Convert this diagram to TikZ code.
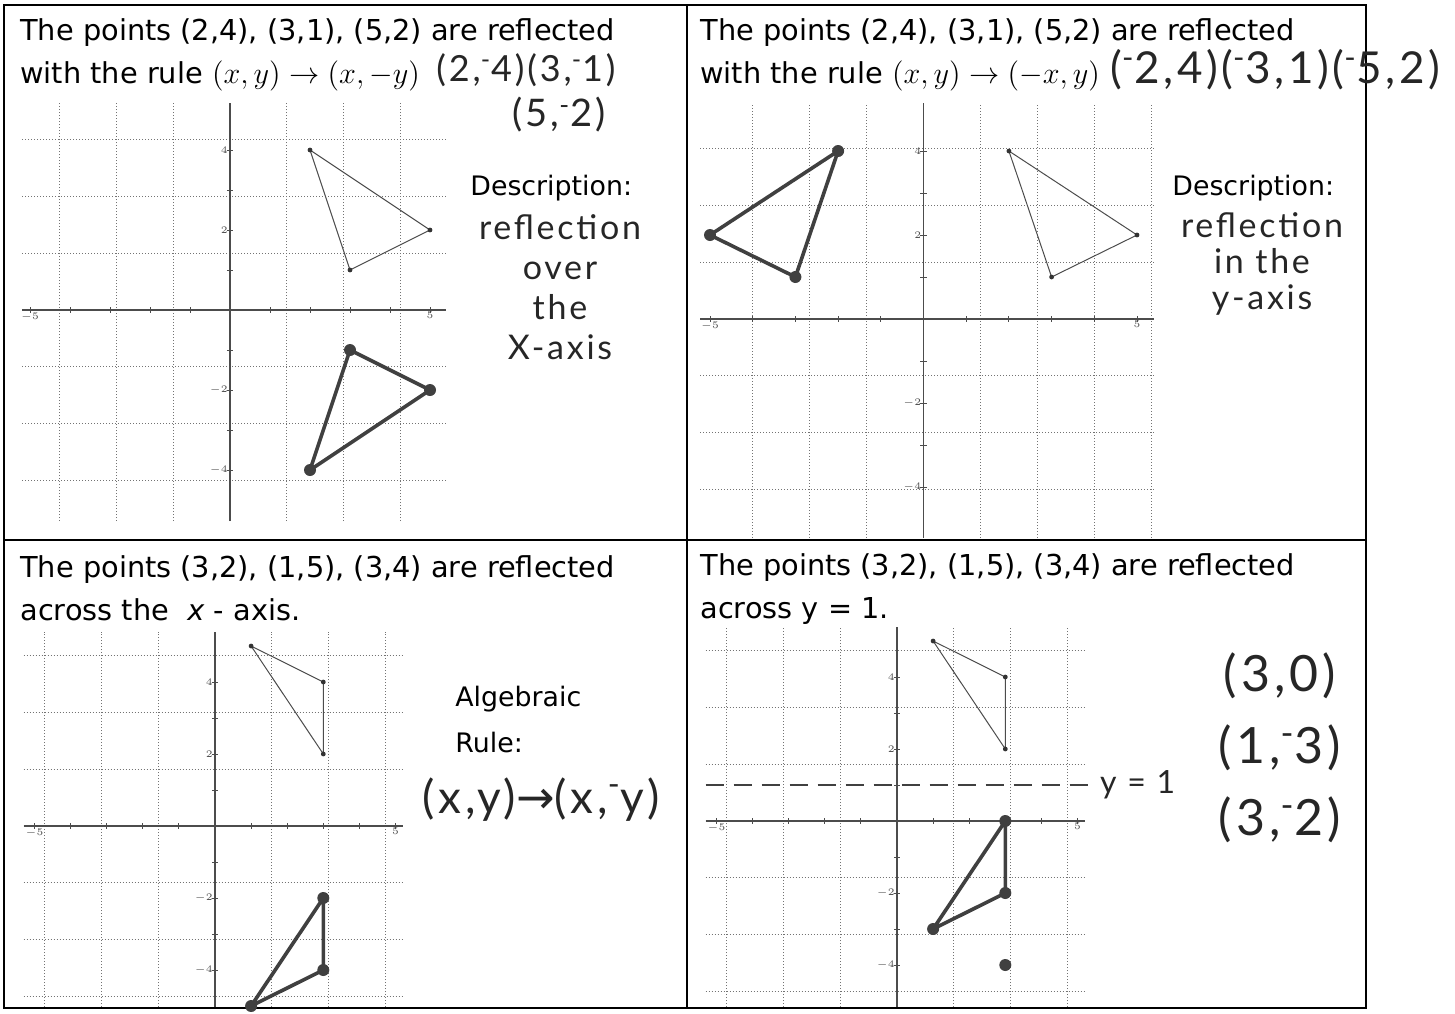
\documentclass[tikz,border=0pt]{standalone}
\usepackage{amsmath,amssymb}
\usepackage{graphicx}
\usepackage{fontspec}
\setmainfont{DejaVu Sans}
\newfontfamily\handfont{Lato}[LetterSpace=8]
\newfontfamily\arrowfont{DejaVu Sans}
\usepackage{tikz}
\usetikzlibrary{positioning,calc}

\tikzset{
  gridline/.style={black!55, dash pattern=on 0.6pt off 0.9pt, line width=0.5pt},
  axisline/.style={black!70, line width=0.8pt},
  ticklabel/.style={font=\fontsize{5}{5}\selectfont, text=black!70, inner sep=1pt},
  printed/.style={font=\fontsize{14.4}{17}\selectfont, inner sep=0pt},
  label/.style={font=\fontsize{13.4}{16}\selectfont, inner sep=0pt},
  hand/.style 2 args={font=\handfont\fontsize{#1}{#2}\selectfont, inner sep=0pt, text=black!85},
  given/.style={black!70, line width=0.5pt},
  image/.style={black!75, line width=1.8pt, line join=round, line cap=round},
  mirror/.style={black!75, line width=1.4pt, dash pattern=on 9pt off 5pt},
  frame/.style={black, line width=1pt}
}

% grid with axes: name prefix, xmin, xmax, ymin, ymax
\newcommand{\coordplane}[5]{%
  \draw[gridline] (#2,#4) grid (#3,#5);
  \draw[axisline] (#2,0) -- (#3,0);
  \draw[axisline] (0,#4) -- (0,#5);
  \foreach \k in {-5,...,5} {
    \draw[axisline, line width=0.5pt] (\k,-0.07) -- (\k,0.07);
  }
  \foreach \k in {-4,...,4} {
    \draw[axisline, line width=0.5pt] (-0.08,\k) -- (0.08,\k);
  }
  \foreach \k in {-4,-2,2,4} {
    \node[ticklabel, left] (#1y\k) at (0,\k) {$\k$};
  }
  \node[ticklabel, below] (#1xl) at (-5,0) {$-5$};
  \node[ticklabel, below] (#1xr) at (5,0) {$5$};
}

\newcommand{\hm}{\textsuperscript{-}}
\newcommand{\rulemath}[1]{\scalebox{1.05}{$#1$}}

\begin{document}
\begin{tikzpicture}[x=0.5pt, y=-0.5pt]
  \useasboundingbox (0,0) rectangle (1455,1013);

  % panels
  \draw[frame] (4,5) rectangle (1366,1008);
  \draw[frame] (687,5) -- (687,1008);
  \draw[frame] (4,540) -- (1366,540);

  % top left
  \node[printed, anchor=base west] (t1a) at (20,40) {The points (2,4), (3,1), (5,2) are reflected};
  \node[printed, anchor=base west] (t1b) at (20,83) {with the rule \rulemath{(x,y)\rightarrow(x,-y)}};
  \begin{scope}[shift={(230,310)}, x=20pt, y=20pt]
    \coordplane{a}{-5.2}{5.4}{-5.28}{5.18}
    \coordinate (a1) at (2,4);
    \coordinate (a2) at (3,1);
    \coordinate (a3) at (5,2);
    \coordinate (b1) at (2,-4);
    \coordinate (b2) at (3,-1);
    \coordinate (b3) at (5,-2);
    \draw[given] (a1) -- (a2) -- (a3) -- cycle;
    \foreach \p in {a1,a2,a3} \fill[black!80] (\p) circle (1.2pt);
    \draw[image] (b1) -- (b2) -- (b3) -- cycle;
    \foreach \p in {b1,b2,b3} \fill[black!75] (\p) circle (3pt);
  \end{scope}
  \node[hand={18}{20}, anchor=west] (h1a) at (436,70) {(2,\hm4)(3,\hm1)};
  \node[hand={19}{20}, anchor=west] (h1b) at (512,115) {(5,\hm2)};
  \node[label, anchor=base west] (d1) at (470,195) {Description:};
  \node[hand={17}{20}, align=center] (h1c) at (560,287) {reflection\\over\\the\\X-axis};

  % top right
  \node[printed, anchor=base west] (t2a) at (700,40) {The points (2,4), (3,1), (5,2) are reflected};
  \node[printed, anchor=base west] (t2b) at (700,83) {with the rule \rulemath{(x,y)\rightarrow(-x,y)}};
  \begin{scope}[shift={(923.5,319)}, x=21.35pt, y=21pt]
    \coordplane{c}{-5.23}{5.4}{-5.21}{5.14}
    \coordinate (c1) at (2,4);
    \coordinate (c2) at (3,1);
    \coordinate (c3) at (5,2);
    \coordinate (d1) at (-2,4);
    \coordinate (d2) at (-3,1);
    \coordinate (d3) at (-5,2);
    \draw[given] (c1) -- (c2) -- (c3) -- cycle;
    \foreach \p in {c1,c2,c3} \fill[black!80] (\p) circle (1.2pt);
    \draw[image] (d1) -- (d2) -- (d3) -- cycle;
    \foreach \p in {d1,d2,d3} \fill[black!75] (\p) circle (3pt);
  \end{scope}
  \node[hand={22}{20}, anchor=west] (h2a) at (1110,70) {(\hm2,4)(\hm3,1)(\hm5,2)};
  \node[label, anchor=base west] (d2) at (1172,195) {Description:};
  \node[hand={17}{18}, align=center] (h2b) at (1262,264) {reflection\\in the\\y-axis};

  % bottom left
  \node[printed, anchor=base west] (t3a) at (20,577) {The points (3,2), (1,5), (3,4) are reflected};
  \node[printed, anchor=base west] (t3b) at (20,620) {across the \ \textit{x} - axis.};
  \begin{scope}[shift={(215,826)}, x=18.05pt, y=18pt]
    \coordplane{e}{-5.3}{5.2}{-5.03}{5.4}
    \coordinate (e1) at (3,2);
    \coordinate (e2) at (1,5);
    \coordinate (e3) at (3,4);
    \coordinate (f1) at (3,-2);
    \coordinate (f2) at (1,-5);
    \coordinate (f3) at (3,-4);
    \draw[given] (e1) -- (e2) -- (e3) -- cycle;
    \foreach \p in {e1,e2,e3} \fill[black!80] (\p) circle (1.2pt);
    \draw[image] (f1) -- (f2) -- (f3) -- cycle;
    \foreach \p in {f1,f2,f3} \fill[black!75] (\p) circle (3pt);
  \end{scope}
  \node[label, anchor=base west] (alg) at (455,706) {Algebraic};
  \node[label, anchor=base west] (rule) at (455,752) {Rule:};
  \node[hand={23}{24}] (h3) at (541,800) {(x,y){\arrowfont→}(x,\hm y)};

  % bottom right
  \node[printed, anchor=base west] (t4a) at (700,575) {The points (3,2), (1,5), (3,4) are reflected};
  \node[printed, anchor=base west] (t4b) at (700,618) {across y = 1.};
  \begin{scope}[shift={(897,821)}, x=18.05pt, y=18pt]
    \coordplane{g}{-5.3}{5.2}{-5.17}{5.4}
    \coordinate (g1) at (3,2);
    \coordinate (g2) at (1,5);
    \coordinate (g3) at (3,4);
    \coordinate (k1) at (3,0);
    \coordinate (k2) at (1,-3);
    \coordinate (k3) at (3,-2);
    \coordinate (stray) at (3,-4);
    \draw[given] (g1) -- (g2) -- (g3) -- cycle;
    \foreach \p in {g1,g2,g3} \fill[black!80] (\p) circle (1.2pt);
    \draw[image] (k1) -- (k2) -- (k3) -- cycle;
    \foreach \p in {k1,k2,k3,stray} \fill[black!75] (\p) circle (3pt);
    \coordinate (mstart) at (-5.3,1);
    \coordinate (mend) at (5.45,1);
    \draw[mirror] (mstart) -- (mend);
  \end{scope}
  \node[hand={16}{18}, anchor=west, right=3pt of mend] (h4a) {y = 1};
  \node[hand={25}{36}, align=center] (h4b) at (1280,748) {(3,0)\\(1,\hm3)\\(3,\hm2)};
\end{tikzpicture}
\end{document}
